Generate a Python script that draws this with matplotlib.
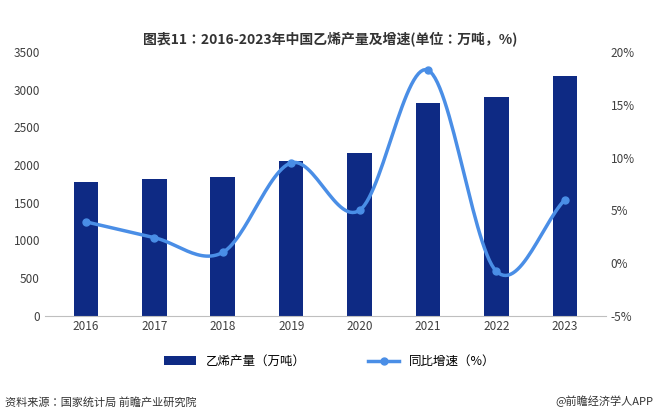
import numpy as np
import matplotlib.pyplot as plt
from matplotlib import font_manager

names = {f.name for f in font_manager.fontManager.ttflist}
cjk = [n for n in ['Noto Sans CJK SC', 'Noto Sans CJK JP', 'Noto Sans CJK TC', 'Noto Sans CJK KR'] if n in names]
print(cjk, sorted(n for n in names if 'CJK' in n or 'Noto' in n))
plt.rcParams['font.family'] = cjk + ['DejaVu Sans']

years = ['2016', '2017', '2018', '2019', '2020', '2021', '2022', '2023']
output = [1780, 1820, 1840, 2050, 2160, 2830, 2900, 3190]
growth = [3.9, 2.4, 1.0, 9.5, 5.0, 18.3, -0.8, 6.0]

BAR = '#0e2a84'
LINE = '#4a8ee6'


def smooth(x, y, n=30):
    # Catmull-Rom curve through the points (drawing only)
    x = np.asarray(x, float); y = np.asarray(y, float)
    px = np.concatenate([[2 * x[0] - x[1]], x, [2 * x[-1] - x[-2]]])
    py = np.concatenate([[2 * y[0] - y[1]], y, [2 * y[-1] - y[-2]]])
    xs, ys = [], []
    for i in range(1, len(px) - 2):
        t = np.linspace(0, 1, n)
        for p, out in ((px, xs), (py, ys)):
            p0, p1, p2, p3 = p[i - 1:i + 3]
            out.extend(0.5 * ((2 * p1) + (-p0 + p2) * t + (2 * p0 - 5 * p1 + 4 * p2 - p3) * t ** 2
                              + (-p0 + 3 * p1 - 3 * p2 + p3) * t ** 3))
    return xs, ys


fig = plt.figure(figsize=(6.6, 4.18), dpi=100)
ax = fig.add_axes([0.068, 0.245, 0.85, 0.63])
x = np.arange(len(years))
ax.bar(x, output, width=0.36, color=BAR, label='乙烯产量（万吨）', zorder=2)
ax.set_ylim(0, 3500)
ax.set_yticks(range(0, 3501, 500))
ax.set_xlim(-0.6, len(years) - 0.4)
ax.set_xticks(x, years)
for s in ['top', 'right', 'left']:
    ax.spines[s].set_visible(False)
ax.spines['bottom'].set_color('#bfbfbf')
ax.tick_params(length=0, labelsize=8.5, colors='#404040')

ax2 = ax.twinx()
sx, sy = smooth(x, growth)
ax2.plot(sx, sy, color=LINE, lw=2.5, zorder=3)
ax2.plot(x, growth, 'o', color=LINE, ms=5, zorder=4)
ax2.set_ylim(-5, 20)
ax2.set_yticks(range(-5, 21, 5), [f'{v}%' for v in range(-5, 21, 5)])
for s in ax2.spines.values():
    s.set_visible(False)
ax2.tick_params(length=0, labelsize=8.5, colors='#404040')

ax2.plot([], [], '-o', color=LINE, lw=2.5, ms=5, label='同比增速（%）')
h1, l1 = ax.get_legend_handles_labels()
h2, l2 = ax2.get_legend_handles_labels()
fig.legend(h1 + h2, l1 + l2, loc='center', bbox_to_anchor=(0.5, 0.135), ncol=2,
           frameon=False, fontsize=9, handlelength=2.5, columnspacing=5)

fig.text(0.5, 0.89, '图表11：2016-2023年中国乙烯产量及增速(单位：万吨，%)',
         ha='center', va='bottom', fontsize=10, fontweight='bold', color='#333333')
fig.text(0.008, 0.03, '资料来源：国家统计局 前瞻产业研究院', fontsize=8, color='#333333')
fig.text(0.99, 0.03, '@前瞻经济学人APP', ha='right', fontsize=8, color='#333333')

fig.savefig('out.png', dpi=100)
